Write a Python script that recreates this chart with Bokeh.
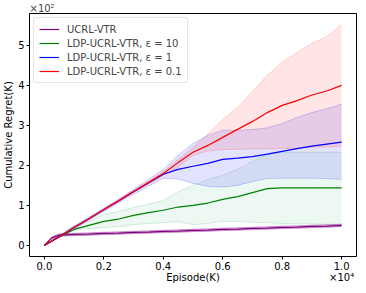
from bokeh.plotting import figure
from bokeh.models import Legend, LegendItem, FixedTicker, Range1d, LinearAxis
from bokeh.embed import file_html
from bokeh.resources import INLINE

# Episodes
episodes = [0, 250, 500, 1000, 1500, 2000, 2500, 3000, 3500, 4000, 4500, 5000,
            5500, 6000, 6500, 7000, 7500, 8000, 8500, 9000, 9500, 10000]

# UCRL-VTR (purple)
ucrl_mean = [0, 19, 26, 27.5, 28.5, 30, 31, 32.5, 33.5, 35, 36, 37.5, 38.5, 40, 41, 42.5, 43.5, 45, 46, 47.5, 48.5, 50]
ucrl_low = [0, 17, 23, 24.5, 25.5, 27, 28, 29.5, 30.5, 32, 33, 34.5, 35.5, 37, 38, 39.5, 40.5, 42, 43, 44.5, 45.5, 47]
ucrl_high = [0, 21, 29, 30.5, 31.5, 33, 34, 35.5, 36.5, 38, 39, 40.5, 41.5, 43, 44, 45.5, 46.5, 48, 49, 50.5, 51.5, 53]

# LDP-UCRL-VTR eps=10 (green)
eps10_mean = [0, 11, 22, 40, 50, 60, 66, 75, 82, 88, 96, 100, 106, 115, 122, 132, 142, 144, 144, 144, 144, 144]
eps10_low = [0, 11, 22, 38, 42, 45, 47, 52, 55, 57, 60, 52, 55, 60, 60, 58, 57, 55, 54, 54, 53, 53]
eps10_high = [0, 11, 22, 48, 60, 78, 85, 95, 103, 112, 134, 150, 165, 175, 190, 210, 228, 233, 233, 233, 233, 233]

# LDP-UCRL-VTR eps=1 (blue)
eps1_mean = [0, 11, 22, 45, 67, 89, 111, 134, 156, 178, 190, 198, 205, 215, 218, 222, 228, 235, 242, 248, 253, 258]
eps1_low = [0, 9, 19, 41, 63, 85, 106, 128, 148, 168, 166, 155, 148, 146, 150, 160, 167, 168, 168, 168, 167, 165]
eps1_high = [0, 13, 25, 49, 71, 93, 116, 140, 165, 190, 225, 255, 275, 288, 288, 290, 294, 305, 320, 332, 342, 353]

# LDP-UCRL-VTR eps=0.1 (red)
eps01_mean = [0, 11, 22, 45, 67, 90, 112, 135, 157, 180, 207, 233, 250, 270, 290, 310, 332, 350, 362, 376, 386, 400]
eps01_low = [0, 10, 21, 43, 65, 88, 110, 132, 154, 175, 195, 225, 236, 240, 240, 241, 241, 242, 243, 245, 246, 248]
eps01_high = [0, 12, 23, 47, 69, 92, 114, 138, 160, 185, 215, 245, 278, 315, 345, 385, 425, 458, 482, 505, 522, 552]

x_ticks = [0, 2000, 4000, 6000, 8000, 10000]
x_tick_labels = ["0.0", "0.2", "0.4", "0.6", "0.8", "1.0"]
y_ticks = [0, 100, 200, 300, 400, 500]
y_tick_labels = ["0", "1", "2", "3", "4", "5"]

x_title = "Episode(K)"
y_title = "Cumulative Regret(K)"
x_scale_text = "×10⁴"
y_scale_text = "×10²"

labels = ["UCRL-VTR", "LDP-UCRL-VTR, ε = 10", "LDP-UCRL-VTR, ε = 1", "LDP-UCRL-VTR, ε = 0.1"]

FONT = "DejaVu Sans"

p = figure(width=358, height=285, output_backend="svg", toolbar_location=None,
           x_range=Range1d(-500, 10500), y_range=Range1d(-27.6, 579.6),
           x_axis_location=None)
p.min_border_left = 2
p.min_border_right = 2
p.min_border_top = 0
p.min_border_bottom = 0
p.xgrid.visible = False
p.ygrid.visible = False
p.outline_line_color = "black"
p.outline_line_width = 1
p.outline_line_alpha = 1

# scale-factor text above the frame
p.title.text = y_scale_text
p.title.align = "left"
p.title.text_font = FONT
p.title.text_font_size = "10px"
p.title.text_font_style = "normal"
p.title.standoff = 0
p.title.offset = 0

# main x axis (ticks + tick labels)
xa = LinearAxis(ticker=FixedTicker(ticks=x_ticks))
xa.major_label_overrides = dict(zip(x_ticks, x_tick_labels))
# second row: axis title and scale-factor text
xa2 = LinearAxis(ticker=FixedTicker(ticks=[5000, 10000]))
xa2.major_label_overrides = {5000: x_title, 10000: x_scale_text}
xa2.major_tick_line_color = None
xa2.major_tick_out = 0
xa2.major_tick_in = 0
xa2.axis_line_color = None
xa2.minor_tick_line_color = None
xa2.major_label_standoff = -1
xa2.major_label_text_font = FONT
xa2.major_label_text_font_size = "10px"
xa2.major_label_text_color = "black"
xa2.major_label_text_baseline = "top"
p.add_layout(xa, "below")
p.add_layout(xa2, "below")

for ax in (xa, p.yaxis[0]):
    ax.axis_line_color = None
    ax.major_tick_out = 3
    ax.major_tick_in = 0
    ax.minor_tick_line_color = None
    ax.major_tick_line_color = "black"
    ax.major_label_text_font = FONT
    ax.major_label_text_font_size = "10px"
    ax.major_label_text_color = "black"
    ax.axis_label_text_font = FONT
    ax.axis_label_text_font_size = "10px"
    ax.axis_label_text_font_style = "normal"
    ax.axis_label_text_color = "black"
    ax.major_label_standoff = 2
    ax.axis_label_standoff = 1

p.yaxis.ticker = FixedTicker(ticks=y_ticks)
p.yaxis.major_label_overrides = dict(zip(y_ticks, y_tick_labels))
p.yaxis.axis_label = y_title

series = [
    (ucrl_mean, ucrl_low, ucrl_high, "#800080", 0.25, 0.35),
    (eps10_mean, eps10_low, eps10_high, "green", 0.0, 0.0),
    (eps1_mean, eps1_low, eps1_high, "blue", 0.11, 0.18),
    (eps01_mean, eps01_low, eps01_high, "red", 0.10, 0.15),
]

# green band uses a lighter sea-green tone
p.varea(x=episodes, y1=eps10_low, y2=eps10_high, fill_color="mediumseagreen", fill_alpha=0.09)
p.line(episodes, eps10_low, line_color="mediumseagreen", line_alpha=0.22, line_width=1)
p.line(episodes, eps10_high, line_color="mediumseagreen", line_alpha=0.22, line_width=1)

for mean, low, high, col, fa, la in series:
    if fa > 0:
        p.varea(x=episodes, y1=low, y2=high, fill_color=col, fill_alpha=fa)
        p.line(episodes, low, line_color=col, line_alpha=la, line_width=1)
        p.line(episodes, high, line_color=col, line_alpha=la, line_width=1)

renderers = []
for mean, low, high, col, fa, la in series:
    r = p.line(episodes, mean, line_color=col, line_width=1.2)
    renderers.append(r)

legend = Legend(items=[LegendItem(label=l, renderers=[r]) for l, r in zip(labels, renderers)],
                location="top_left")
legend.label_text_font = FONT
legend.label_text_font_size = "10px"
legend.glyph_width = 20
legend.glyph_height = 12
legend.label_height = 12
legend.spacing = 2
legend.padding = 5
legend.margin = 4
legend.label_standoff = 8
legend.border_line_color = "#cccccc"
legend.border_line_width = 1
legend.background_fill_alpha = 0.8
legend.border_radius = 3
p.add_layout(legend)

open("out.html", "w").write(file_html(p, INLINE))
